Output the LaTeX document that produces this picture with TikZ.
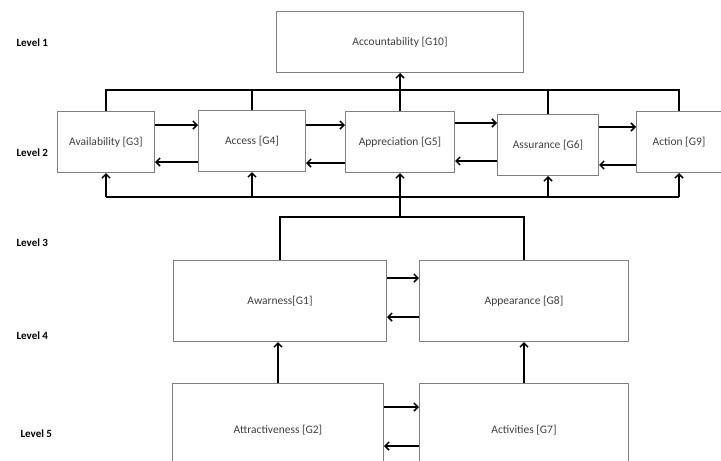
\documentclass[tikz,border=0pt]{standalone}
\usepackage{fontspec}
\setmainfont{Carlito}
\usetikzlibrary{calc, arrows.meta}

\begin{document}
\begin{tikzpicture}[x=1pt, y=-1pt,
  box/.style={draw=black!50, line width=1pt, text=black!75, fill=white,
    font=\fontsize{11.5}{13}\selectfont, inner sep=0pt},
  lvl/.style={font=\fontsize{11}{13}\selectfont\bfseries, anchor=west},
  link/.style={line width=1.9pt},
  arr/.style={link, -{Straight Barb[length=4pt, width=8pt, line width=1.5pt]}}]
  \useasboundingbox (0,0) rectangle (721,461);
  % level labels
  \node[lvl] (l1) at (13,43) {Level 1};
  \node[lvl] (l2) at (13,153) {Level 2};
  \node[lvl] (l3) at (13,243) {Level 3};
  \node[lvl] (l4) at (13,336) {Level 4};
  \node[lvl] (l5) at (17,434) {Level 5};
  % boxes
  \node[box, minimum width=247pt, minimum height=61pt] (acc) at (400,42) {Accountability [G10]};
  \node[box, minimum width=97pt, minimum height=61pt] (avail) at (106,142) {Availability [G3]};
  \node[box, minimum width=107pt, minimum height=61pt] (access) at (252,141) {Access [G4]};
  \node[box, minimum width=109pt, minimum height=61pt] (appr) at (400,142) {Appreciation [G5]};
  \node[box, minimum width=101pt, minimum height=61pt] (assur) at (548,145) {Assurance [G6]};
  \node[box, minimum width=85pt, minimum height=61pt] (action) at (679,142) {Action [G9]};
  \node[box, minimum width=213pt, minimum height=81pt] (aware) at (280,301) {Awarness[G1]};
  \node[box, minimum width=209pt, minimum height=81pt] (appear) at (524,301) {Appearance [G8]};
  \node[box, minimum width=211pt, minimum height=93pt] (attr) at (278,430) {Attractiveness [G2]};
  \node[box, minimum width=209pt, minimum height=93pt] (activ) at (524,430) {Activities [G7]};
  % bus heights
  \coordinate (tb) at (0,90);
  \coordinate (bb) at (0,197);
  \coordinate (mb) at (0,217);
  % top bus
  \draw[link] (avail.north) |- (tb -| action.north) -- (action.north);
  \draw[link] (access.north) -- (access.north |- tb);
  \draw[link] (assur.north) -- (assur.north |- tb);
  \draw[arr] (appr.north) -- (appr.north |- acc.south);
  % bottom bus
  \draw[link] (bb -| avail.south) -- (bb -| action.south);
  \foreach \b in {avail, access, assur, action}
    \draw[arr] (bb -| \b.south) -- (\b.south);
  \draw[arr] (mb -| appr.south) -- (appr.south);
  \draw[link] (aware.north) |- (mb -| appear.north) -- (appear.north);
  % level 2 arrows
  \draw[arr] ([yshift=17pt]avail.east) -- ([yshift=17pt]avail.east -| access.west);
  \draw[arr] ([yshift=-21pt]access.west) -- ([yshift=-21pt]access.west -| avail.east);
  \draw[arr] ([yshift=16pt]access.east) -- ([yshift=16pt]access.east -| appr.west);
  \draw[arr] ([yshift=-21pt]appr.west) -- ([yshift=-21pt]appr.west -| access.east);
  \draw[arr] ([yshift=19pt]appr.east) -- ([yshift=19pt]appr.east -| assur.west);
  \draw[arr] ([yshift=-16pt]assur.west) -- ([yshift=-16pt]assur.west -| appr.east);
  \draw[arr] ([yshift=18pt]assur.east) -- ([yshift=18pt]assur.east -| action.west);
  \draw[arr] ([yshift=-23pt]action.west) -- ([yshift=-23pt]action.west -| assur.east);
  % level 4 and 5 arrows
  \draw[arr] ([yshift=23pt]aware.east) -- ([yshift=23pt]aware.east -| appear.west);
  \draw[arr] ([yshift=-16pt]appear.west) -- ([yshift=-16pt]appear.west -| aware.east);
  \draw[arr] (attr.north) -- (attr.north |- aware.south);
  \draw[arr] (activ.north) -- (appear.south);
  \draw[arr] ([yshift=23pt]attr.east) -- ([yshift=23pt]attr.east -| activ.west);
  \draw[arr] ([yshift=-16pt]activ.west) -- ([yshift=-16pt]activ.west -| attr.east);
\end{tikzpicture}
\end{document}
